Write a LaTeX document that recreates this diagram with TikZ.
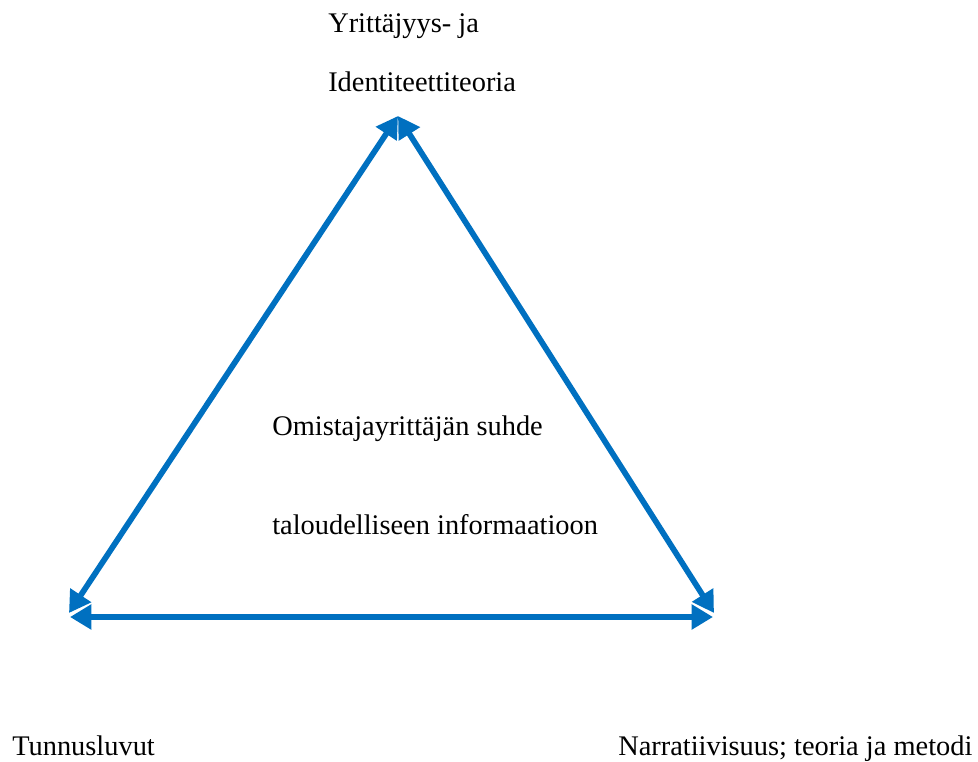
\documentclass[tikz,border=0pt]{standalone}
\usepackage{fontspec}
\setmainfont{Liberation Serif}
\usetikzlibrary{arrows.meta}
\definecolor{arrblue}{HTML}{0070C0}
\begin{document}
\begin{tikzpicture}[x=0.75pt,y=-0.75pt,
  lbl/.style={anchor=base west,inner sep=0pt,font=\fontsize{21.3}{25}\selectfont},
  dbl/.style={arrblue,line width=4.3pt,{Triangle[length=16pt,width=18pt]}-{Triangle[length=16pt,width=18pt]}}]
\useasboundingbox (0,0) rectangle (978,762);
\coordinate (top) at (398,116);
\coordinate (left) at (69,613);
\coordinate (right) at (714,613);
\coordinate (hl) at (70,617);
\coordinate (hr) at (713,617);
\draw[dbl] (left) -- (top);
\draw[dbl] (right) -- (top);
\draw[dbl] (hl) -- (hr);
\node[lbl] (t1) at (328,33) {Yrittäjyys- ja};
\node[lbl] (t2) at (328,92) {Identiteettiteoria};
\node[lbl] (c1) at (272,436) {Omistajayrittäjän suhde};
\node[lbl] (c2) at (272,535) {taloudelliseen informaatioon};
\node[lbl] (bl) at (12,755) {Tunnusluvut};
\node[lbl] (br) at (618,755) {Narratiivisuus; teoria ja metodi};
\end{tikzpicture}
\end{document}
